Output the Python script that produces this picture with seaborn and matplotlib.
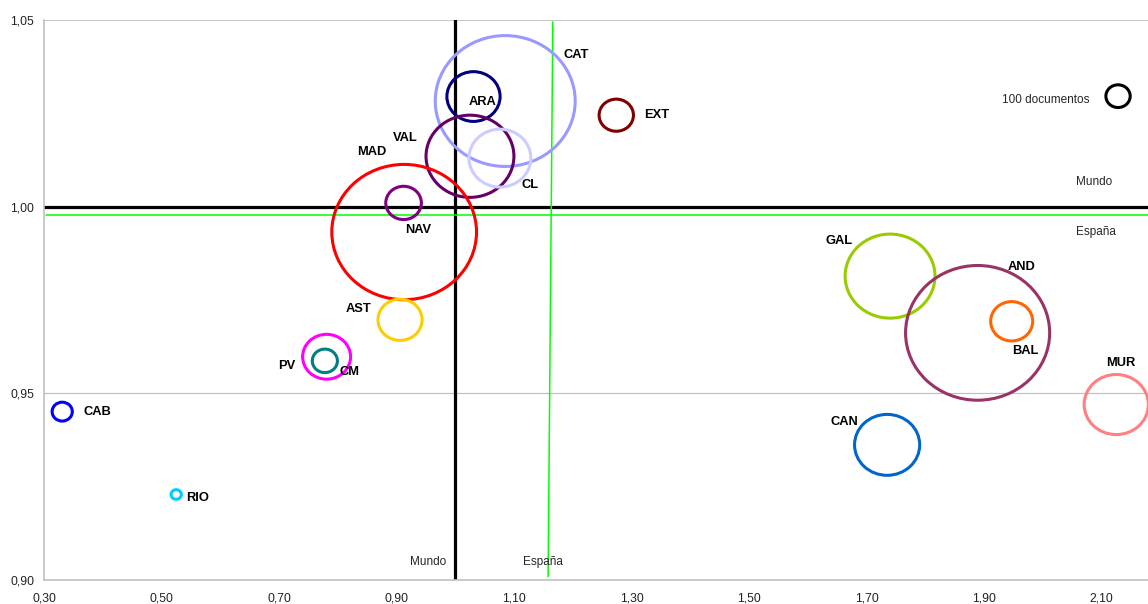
import pandas as pd
import matplotlib
matplotlib.use("Agg")
import matplotlib.pyplot as plt
import seaborn as sns
from matplotlib.path import Path
from matplotlib.transforms import Affine2D
from matplotlib.ticker import FuncFormatter, FixedLocator

# data
regions = ["CAT", "ARA", "VAL", "CL", "EXT", "MAD", "NAV", "AST", "PV", "CM",
           "CAB", "RIO", "GAL", "AND", "BAL", "MUR", "CAN"]
impacto_x = [1.085, 1.031, 1.025, 1.076, 1.274, 0.913, 0.912, 0.906, 0.781, 0.778,
             0.331, 0.525, 1.740, 1.889, 1.947, 2.125, 1.735]
impacto_y = [1.0283, 1.0295, 1.0135, 1.0130, 1.0245, 0.9932, 1.0010, 0.9697, 0.9598, 0.9587,
             0.9451, 0.9229, 0.9814, 0.9662, 0.9693, 0.9470, 0.9362]
documentos = [3320, 480, 1310, 650, 200, 3550, 215, 330, 390, 107,
              69, 18, 1370, 3520, 300, 700, 720]
colores = ["#9999FF", "#000080", "#660066", "#CCCCFF", "#800000", "#FF0000", "#800080",
           "#FFCC00", "#FF00FF", "#008080", "#0000FF", "#00CCFF", "#99CC00", "#993366",
           "#FF6600", "#FF8080", "#0066CC"]

ref_label = "100 documentos"
ref_x, ref_y, ref_docs = 2.128, 1.0296, 100

mundo_ref = 1.00
espana_x = (1.166, 1.158)
espana_y = 0.9979

x_ticks = [0.30, 0.50, 0.70, 0.90, 1.10, 1.30, 1.50, 1.70, 1.90, 2.10]
y_ticks = [0.90, 0.95, 1.00, 1.05]

# label offsets from bubble centre, in pixels (dx right, dy down)
label_off = {
    "CAT": (58, -46), "ARA": (-5, 5), "VAL": (-77, -18), "CL": (22, 27),
    "EXT": (28, 0), "MAD": (-47, -80), "NAV": (2, 27), "AST": (-54, -11),
    "PV": (-48, 9), "CM": (15, 11), "CAB": (21, 0), "RIO": (10, 3),
    "GAL": (-65, -35), "AND": (30, -66), "BAL": (0, 30), "MUR": (-10, -42),
    "CAN": (-57, -23),
}

sns.set_style("white")
plt.rcParams["font.family"] = ["Liberation Sans", "DejaVu Sans"]

df = pd.DataFrame({
    "region": regions + [ref_label],
    "x": impacto_x + [ref_x],
    "y": impacto_y + [ref_y],
    "docs": documentos + [ref_docs],
})
palette = dict(zip(regions, colores))
palette[ref_label] = "#000000"

fig = plt.figure(figsize=(11.48, 6.04), dpi=100)
ax = fig.add_axes([44 / 1148, 24 / 604, 1 - 44 / 1148, 560 / 604])

# reference lines
ax.axhline(mundo_ref, color="black", lw=2.3, zorder=2)
ax.axvline(mundo_ref, color="black", lw=2.3, zorder=2)
ax.axhline(espana_y, xmin=0.002, color="#00FF00", lw=1.1, zorder=2)
ax.plot(espana_x, (1.0495, 0.9009), color="#00FF00", lw=1.1, zorder=2)
ax.axhline(0.95, color="#c0c0c0", lw=0.9, zorder=1)
ax.axhline(1.05, color="#c0c0c0", lw=1.2, zorder=1)

# bubbles are slightly wider than tall in the original
aspect = 0.935
ellipse = Path.unit_circle().transformed(Affine2D().scale(1.0, aspect))
k = 2.863 * 1.068  # pt^2 per document (marker width based)
sns.scatterplot(data=df, x="x", y="y", hue="region", palette=palette,
                size="docs", sizes=(k * df["docs"].min(), k * df["docs"].max()),
                marker=ellipse, legend=False, ax=ax, zorder=3)
coll = ax.collections[-1]
coll.set_edgecolors(coll.get_facecolors())
coll.set_facecolors("none")
coll.set_linewidths(2.2)

for name, x, y in zip(regions, impacto_x, impacto_y):
    dx, dy = label_off[name]
    ax.annotate(name, (x, y), xytext=(dx * 0.72, -dy * 0.72), textcoords="offset points",
                ha="left", va="center", fontsize=9.3, fontweight="bold", color="black")

ax.text(2.080, 1.0287, ref_label, ha="right", va="center", fontsize=8.5)
ax.text(2.118, 1.0067, "Mundo", ha="right", va="center", fontsize=8.5)
ax.text(2.125, 0.9933, "España", ha="right", va="center", fontsize=8.5)
ax.text(0.984, 0.9049, "Mundo", ha="right", va="center", fontsize=8.5)
ax.text(1.115, 0.9049, "España", ha="left", va="center", fontsize=8.5)

ax.set_xlim(0.30, 2.179)
ax.set_ylim(0.90, 1.05)
ax.xaxis.set_major_locator(FixedLocator(x_ticks))
ax.yaxis.set_major_locator(FixedLocator(y_ticks))
fmt = FuncFormatter(lambda v, p: f"{v:.2f}".replace(".", ","))
ax.xaxis.set_major_formatter(fmt)
ax.yaxis.set_major_formatter(fmt)
ax.tick_params(axis="both", length=0, labelsize=8.7, colors="#222222")
ax.tick_params(axis="x", pad=9)
ax.tick_params(axis="y", pad=7)
ax.set_xlabel("")
ax.set_ylabel("")
for side in ["top", "right"]:
    ax.spines[side].set_visible(False)
for side in ["left", "bottom"]:
    ax.spines[side].set_color("#c0c0c0")
    ax.spines[side].set_linewidth(1.2)

fig.savefig("out.png", dpi=100)
